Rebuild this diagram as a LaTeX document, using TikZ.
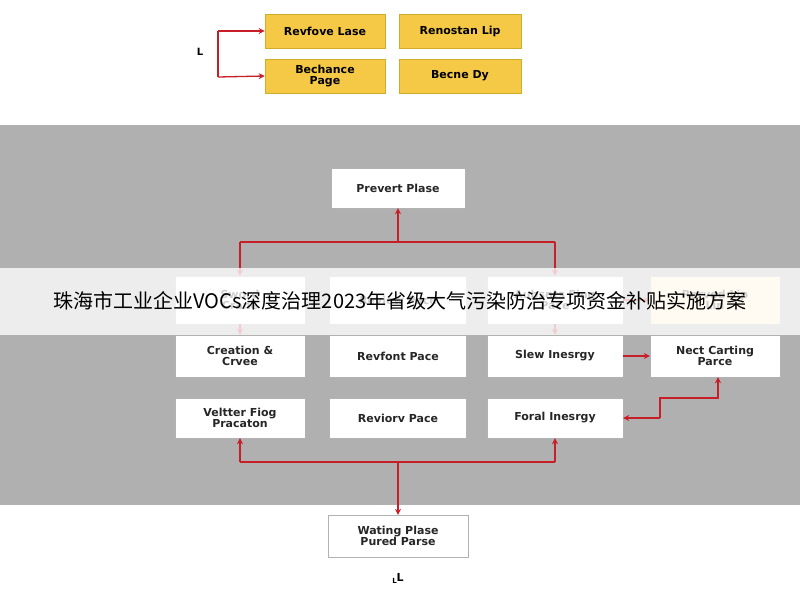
\documentclass[tikz,border=0pt]{standalone}
\usepackage{fontspec}
\setmainfont{DejaVu Sans}
\newfontfamily\cjk{Noto Sans CJK SC}
\usetikzlibrary{arrows.meta}
\begin{document}
\begin{tikzpicture}[x=1pt,y=-1pt,
 yb/.style={draw=yellow!60!orange!80!black,line width=0.6pt,fill={rgb,255:red,245;green,200;blue,70},minimum width=120pt,minimum height=34pt,font=\bfseries\fontsize{11}{11.5}\selectfont,align=center,inner sep=1pt},
 wb/.style={draw=gray!60,fill=white,minimum height=42pt,font=\bfseries\fontsize{11}{11.5}\selectfont,align=center,inner sep=1pt,text=black!85},
 ar/.style={draw={rgb,255:red,200;green,30;blue,40},line width=1.3pt,-{Stealth[length=6pt,width=6pt]}},
 ln/.style={draw={rgb,255:red,200;green,30;blue,40},line width=1.3pt}]
\useasboundingbox (0,0) rectangle (800,600);
\fill[white] (0,0) rectangle (800,600);
% top
\node[yb] (a1) at (325,31) {Revfove Lase};
\node[yb,minimum width=122pt] (a2) at (460,31) {Renostan Lip};
\node[yb] (a3) at (325,76) {Bechance\\Page};
\node[yb,minimum width=122pt] (a4) at (460,76) {Becne Dy};
\node[font=\bfseries\fontsize{10}{11}\selectfont] (lt) at (200,52) {L};
\coordinate (b1) at (218,31); \coordinate (b2) at (218,77);
\draw[ln] (b1) -- (b2);
\draw[ar] (b1) -- (a1.west);
\draw[ar] (b2) -- (a3.west);
% panel
\fill[gray!62] (0,125) rectangle (800,505);
\node[wb,minimum width=134pt,minimum height=40pt] (p) at (398,188) {Prevert Plase};
\node[wb,minimum width=130pt,minimum height=48pt] (r11) at (240,300) {Sword\\Crane};
\node[wb,minimum width=137pt,minimum height=48pt] (r12) at (398,300) {Review Pace};
\node[wb,minimum width=136pt,minimum height=48pt] (r13) at (555,300) {Aubsnts Fing\\Pace};
\node[wb,minimum width=130pt,minimum height=48pt,fill={rgb,255:red,255;green,240;blue,200}] (r14) at (715,300) {Rervod Lip\\Lin};
\node[wb,minimum width=130pt] (r21) at (240,356) {Creation \&\\Crvee};
\node[wb,minimum width=137pt] (r22) at (398,356) {Revfont Pace};
\node[wb,minimum width=136pt] (r23) at (555,356) {Slew Inesrgy};
\node[wb,minimum width=130pt] (r24) at (715,356) {Nect Carting\\Parce};
\node[wb,minimum width=130pt,minimum height=40pt] (r31) at (240,418) {Veltter Fiog\\Pracaton};
\node[wb,minimum width=137pt,minimum height=40pt] (r32) at (398,418) {Reviorv Pace};
\node[wb,minimum width=136pt,minimum height=40pt] (r33) at (555,418) {Foral Inesrgy};
\coordinate (h1) at (240,242); \coordinate (h2) at (398,242); \coordinate (h3) at (555,242);
\draw[ln] (h1) -- (h3);
\draw[ar] (h2) -- (p.south);
\draw[ar] (h1) -- (r11.north);
\draw[ar] (h3) -- (r13.north);
\draw[ar] (r11.south) -- (r21.north);
\draw[ar] (r13.south) -- (r23.north);
\draw[ar] (r13.east) -- (r14.west);
\draw[ar] (r23.east) -- (r24.west);
\coordinate (s1) at (660,418); \coordinate (s2) at (660,398); \coordinate (s3) at (718,398);
\draw[ar] (s1) -- (r33.east);
\draw[ar] (s1) -- (s2) -- (s3) -- (r24.south -| s3);
\coordinate (g1) at (240,462); \coordinate (g2) at (398,462); \coordinate (g3) at (555,462);
\draw[ln] (g1) -- (g3);
\draw[ar] (g1) -- (r31.south);
\draw[ar] (g3) -- (r33.south);
\node[wb,minimum width=140pt] (w) at (398,536) {Wating Plase\\Pured Parse};
\draw[ar] (g2) -- (w.north);
\node[font=\bfseries\fontsize{11}{12}\selectfont] (l2) at (398,578) {\raisebox{-2pt}{\scriptsize L}L};
% banner
\fill[white,opacity=0.78] (0,268) rectangle (800,335);
\node[font=\cjk\fontsize{20}{22}\selectfont] (t) at (400,301) {珠海市工业企业VOCs深度治理2023年省级大气污染防治专项资金补贴实施方案};
\end{tikzpicture}
\end{document}
